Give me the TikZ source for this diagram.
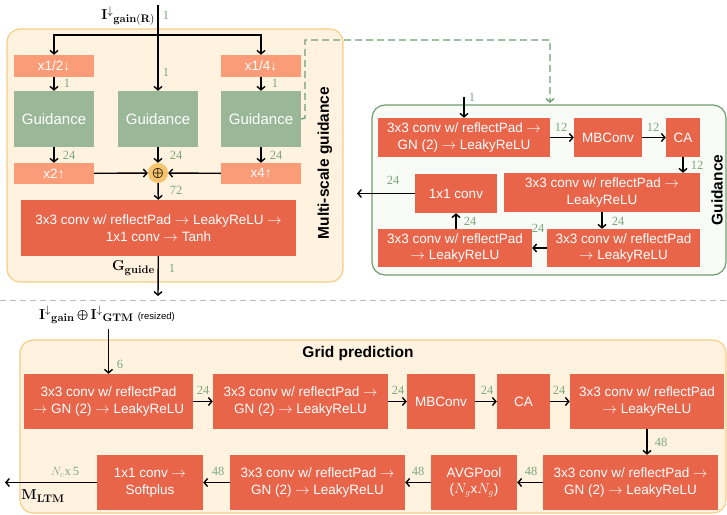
\documentclass[tikz,border=0pt]{standalone}
\usepackage[no-math]{fontspec}
\setmainfont{Liberation Sans}
\newfontfamily\numfont{Liberation Serif}
\usetikzlibrary{arrows.meta,positioning}
\newcommand{\ra}{$\rightarrow$}
\definecolor{boxred}{HTML}{E8654A}
\definecolor{salmon}{HTML}{FA9C78}
\definecolor{gboxgreen}{HTML}{9AB898}
\definecolor{panelfill}{HTML}{FFF3E0}
\definecolor{panelline}{HTML}{F8CD85}
\definecolor{gpanelline}{HTML}{6E9E6E}
\definecolor{gpanelfill}{HTML}{F8FBF6}
\definecolor{lblgreen}{HTML}{7BA87B}
\definecolor{circfill}{HTML}{F6C46C}
\definecolor{sepgray}{HTML}{BBBBBB}
\tikzset{
  redbox/.style={fill=boxred, text=white, inner sep=0pt, align=center, font=\fontsize{13.5}{16.5}\selectfont},
  salbox/.style={fill=salmon, text=white, inner sep=0pt, align=center, font=\fontsize{13.5}{16.5}\selectfont},
  grnbox/.style={fill=gboxgreen, text=white, inner sep=0pt, align=center, font=\fontsize{15}{18}\selectfont},
  arr/.style={draw=black, line width=1.4pt, -{Straight Barb[length=3.5pt,width=8pt]}},
  lbl/.style={text=lblgreen, font=\numfont\fontsize{12.5}{14}\selectfont, inner sep=0pt},
  mlbl/.style={text=black, font=\fontsize{15}{17}\selectfont, inner sep=0pt},
  ttl/.style={font=\bfseries\fontsize{15.5}{18}\selectfont, inner sep=0pt},
  opanel/.style={draw=panelline, fill=panelfill, line width=1.2pt, rounded corners=13pt},
  gpanel/.style={draw=gpanelline, fill=gpanelfill, line width=1.2pt, rounded corners=13pt},
}
\begin{document}
\begin{tikzpicture}[x=1pt,y=-1pt]
\useasboundingbox (0,0) rectangle (727,514);
% panels
\draw[opanel] (7,29) rectangle (343,282);
\draw[gpanel] (372,105) rectangle (726,275);
\draw[opanel] (20,340) rectangle (726,513);
\draw[sepgray, line width=0.9pt, dash pattern=on 6pt off 4pt] (0,300) -- (727,300);

% ===== Multi-scale guidance =====
\node[salbox, minimum width=80pt, minimum height=22pt] (half) at (54,66) {x1/2↓};
\node[salbox, minimum width=80pt, minimum height=22pt] (quarter) at (261,66) {x1/4↓};
\node[grnbox, minimum width=80pt, minimum height=56pt] (gL) at (54,119) {Guidance};
\node[grnbox, minimum width=80pt, minimum height=56pt] (gM) at (158,119) {Guidance};
\node[grnbox, minimum width=80pt, minimum height=56pt] (gR) at (261,119) {Guidance};
\node[salbox, minimum width=80pt, minimum height=21pt] (up2) at (54,173.5) {x2↑};
\node[salbox, minimum width=80pt, minimum height=21pt] (up4) at (261,173.5) {x4↑};
\node[circle, fill=circfill, minimum size=20pt, inner sep=0pt, font=\fontsize{12}{14}\selectfont] (plus) at (158,173) {$\bigoplus$};
\node[redbox, minimum width=275pt, minimum height=56pt] (big) at (158.5,228) {3x3 conv w/ reflectPad \ra{} LeakyReLU \ra\\1x1 conv \ra{} Tanh};
\coordinate (inTop) at (158,5);
\coordinate (split) at (158,35);
\coordinate (gout) at (158,296);
\draw[arr] (inTop) -- (gM);
\draw[arr] (split) -| (half);
\draw[arr] (split) -| (quarter);
\draw[arr] (half) -- (gL);
\draw[arr] (quarter) -- (gR);
\draw[arr] (gL) -- (up2);
\draw[arr] (gR) -- (up4);
\draw[arr] (gM) -- (plus);
\draw[arr] (up2) -- (plus);
\draw[arr] (up4) -- (plus);
\draw[arr] (plus) -- (big);
\draw[arr] (big) -- (gout);
\node[mlbl, anchor=east] (tin) at (155,16) {$\mathbf{I}^{\downarrow}{}_{\mathbf{gain(R)}}$};
\node[lbl] (l1) at (166,15) {1};
\node[lbl] (l2) at (67,83) {1};
\node[lbl] (l3) at (166,72) {1};
\node[lbl] (l4) at (275,83) {1};
\node[lbl] (l5) at (69,155) {24};
\node[lbl] (l6) at (176,155) {24};
\node[lbl] (l7) at (276,155) {24};
\node[lbl] (l8) at (176,190) {72};
\node[mlbl, anchor=east] (tg) at (155,268) {$\mathbf{G}_{\mathbf{guide}}$};
\node[lbl] (l9) at (172,268) {1};
\node[ttl, rotate=90] (tms) at (325,163) {Multi-scale guidance};

% dashed link
\coordinate (d1) at (305,118);
\coordinate (d2) at (305,40);
\coordinate (d3) at (550,40);
\coordinate (d4) at (550,103);
\draw[gpanelline, line width=1.4pt, dash pattern=on 7pt off 4pt, -{Straight Barb[length=3.5pt,width=8pt]}] (gR.east) -- (d1) -- (d2) -- (d3) -- (d4);

% ===== Guidance detail =====
\node[redbox, minimum width=172pt, minimum height=39pt] (A) at (464,137.5) {3x3 conv w/ reflectPad \ra\\GN (2) \ra{} LeakyReLU};
\node[redbox, minimum width=68pt, minimum height=39pt] (MB) at (608,137.5) {MBConv};
\node[redbox, minimum width=34pt, minimum height=39pt] (CA) at (683,137.5) {CA};
\node[redbox, minimum width=196pt, minimum height=39pt] (D) at (602,192.5) {3x3 conv w/ reflectPad \ra\\LeakyReLU};
\node[redbox, minimum width=153pt, minimum height=38pt] (E) at (623.5,248) {3x3 conv w/ reflectPad\\\ra{} LeakyReLU};
\node[redbox, minimum width=154pt, minimum height=38pt] (F) at (455,248) {3x3 conv w/ reflectPad\\\ra{} LeakyReLU};
\node[redbox, minimum width=82pt, minimum height=39pt] (C11) at (456,193.5) {1x1 conv};
\coordinate (gin) at (464,97);
\coordinate (gexit) at (357,193.5);
\draw[arr] (gin) -- (A);
\draw[arr] (A) -- (MB);
\draw[arr] (MB) -- (CA);
\draw[arr] (CA.south) -- (CA.south |- D.north);
\draw[arr] (D.south) -- (D.south |- E.north);
\draw[arr] (E) -- (F);
\draw[arr] (C11.south |- F.north) -- (C11.south);
\draw[arr] (C11) -- (gexit);
\node[lbl] (m1) at (472,97) {1};
\node[lbl] (m2) at (561,127) {12};
\node[lbl] (m3) at (653,127) {12};
\node[lbl] (m4) at (697,165) {12};
\node[lbl] (m5) at (618,221) {24};
\node[lbl] (m6) at (538,228) {24};
\node[lbl] (m7) at (470,221) {24};
\node[lbl] (m8) at (393,180) {24};
\node[ttl, rotate=90] (tgd) at (717,190) {Guidance};

% ===== Grid prediction =====
\node[ttl] (tgp) at (358,353) {Grid prediction};
\node[redbox, minimum width=169pt, minimum height=55pt] (B1) at (108.5,401.5) {3x3 conv w/ reflectPad\\\ra{} GN (2) \ra{} LeakyReLU};
\node[redbox, minimum width=175pt, minimum height=55pt] (B2) at (300.5,401.5) {3x3 conv w/ reflectPad \ra\\GN (2) \ra{} LeakyReLU};
\node[redbox, minimum width=68pt, minimum height=55pt] (MB2) at (441,401.5) {MBConv};
\node[redbox, minimum width=53pt, minimum height=55pt] (CA2) at (523.5,401.5) {CA};
\node[redbox, minimum width=154pt, minimum height=55pt] (B5) at (647,401.5) {3x3 conv w/ reflectPad\\\ra{} LeakyReLU};
\node[redbox, minimum width=175pt, minimum height=55pt] (C1) at (630.5,482.5) {3x3 conv w/ reflectPad \ra\\GN (2) \ra{} LeakyReLU};
\node[redbox, minimum width=86pt, minimum height=55pt] (AVG) at (474,482.5) {AVGPool\\($N_g$x$N_g$)};
\node[redbox, minimum width=175pt, minimum height=55pt] (C3) at (317.5,482.5) {3x3 conv w/ reflectPad \ra\\GN (2) \ra{} LeakyReLU};
\node[redbox, minimum width=106pt, minimum height=55pt] (SP) at (150,482.5) {1x1 conv \ra\\Softplus};
\node[mlbl] (tin2) at (107,315) {$\mathbf{I}^{\downarrow}{}_{\mathbf{gain}}\bigoplus\mathbf{I}^{\downarrow}{}_{\mathbf{GTM}}$ {\fontsize{9.5}{10}\selectfont(resized)}};
\coordinate (bin) at (108.5,329);
\coordinate (bout) at (5,482.5);
\draw[arr] (bin) -- (B1);
\draw[arr] (B1) -- (B2);
\draw[arr] (B2) -- (MB2);
\draw[arr] (MB2) -- (CA2);
\draw[arr] (CA2) -- (B5);
\draw[arr] (B5.south) -- (B5.south |- C1.north);
\draw[arr] (C1) -- (AVG);
\draw[arr] (AVG) -- (C3);
\draw[arr] (C3) -- (SP);
\draw[arr] (SP) -- (bout);
\node[lbl] (n1) at (120,364) {6};
\node[lbl] (n2) at (203,390) {24};
\node[lbl] (n3) at (398,390) {24};
\node[lbl] (n4) at (487,390) {24};
\node[lbl] (n5) at (559,390) {24};
\node[lbl] (n6) at (661,442) {48};
\node[lbl] (n7) at (531,471) {48};
\node[lbl] (n8) at (418,471) {48};
\node[lbl] (n9) at (218,471) {48};
\node[lbl] (n10) at (65,472) {$N_c$x\,5};
\node[mlbl] (tm) at (43,496) {$\mathbf{M}_{\mathbf{LTM}}$};
\end{tikzpicture}
\end{document}
